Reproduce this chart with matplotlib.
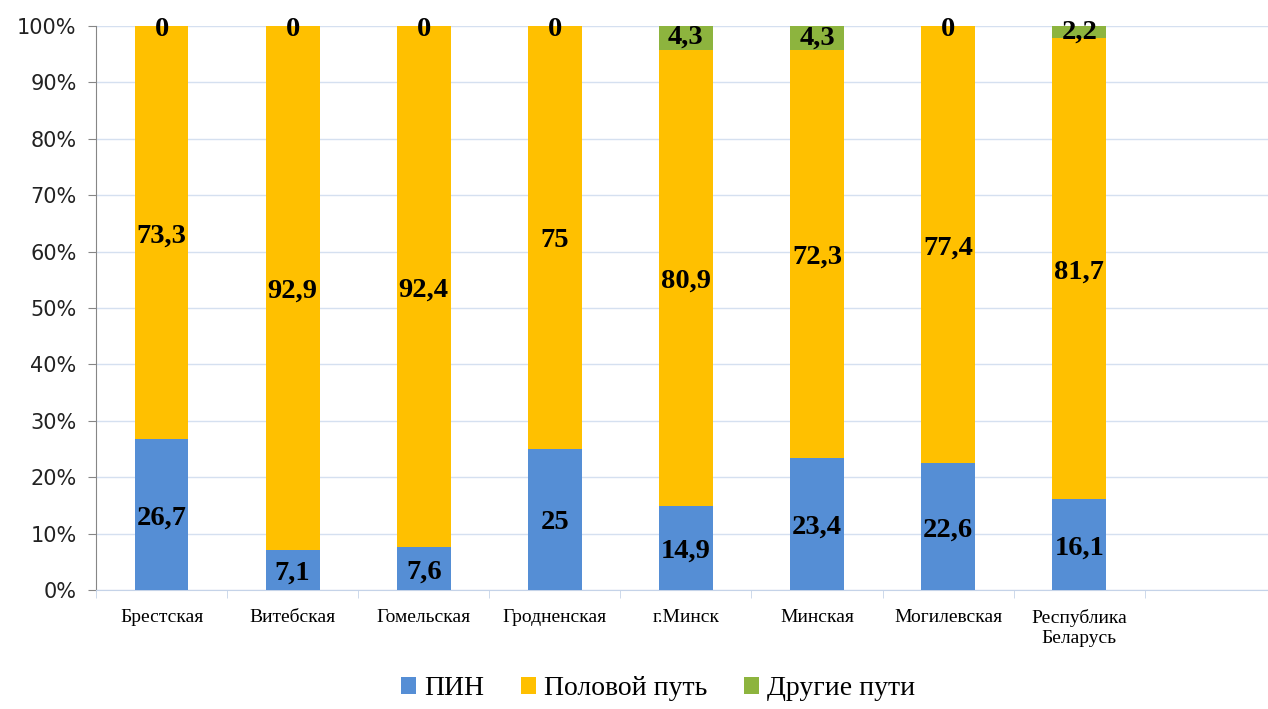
import numpy as np
import matplotlib
matplotlib.use('Agg')
import matplotlib.pyplot as plt
from matplotlib.ticker import FixedLocator, PercentFormatter

categories = ['Брестская', 'Витебская', 'Гомельская', 'Гродненская', 'г.Минск',
              'Минская', 'Могилевская', 'Республика\nБеларусь', '']
pin = [26.7, 7.1, 7.6, 25, 14.9, 23.4, 22.6, 16.1]
sexual = [73.3, 92.9, 92.4, 75, 80.9, 72.3, 77.4, 81.7]
other = [0, 0, 0, 0, 4.3, 4.3, 0, 2.2]
series_names = ['ПИН', 'Половой путь', 'Другие пути']

colors = ['#558ED5', '#FFC000', '#8DB43E']

fig = plt.figure(figsize=(12.68, 7.09), dpi=100)
ax = fig.add_axes([0.0757, 0.1678, 0.9243, 0.7955])

x = np.arange(len(pin))
w = 0.41
pin = np.array(pin)
sexual = np.array(sexual)
other = np.array(other)
b1 = ax.bar(x, pin, w, color=colors[0], label=series_names[0], zorder=3)
b2 = ax.bar(x, sexual, w, bottom=pin, color=colors[1], label=series_names[1], zorder=3)
b3 = ax.bar(x, other, w, bottom=pin + sexual, color=colors[2], label=series_names[2], zorder=3)

def fmt(v):
    s = ('%g' % v).replace('.', ',')
    return s

lab_kw = dict(ha='center', va='center', fontsize=20.5, fontweight='bold',
              family='Liberation Serif', color='black', zorder=5)
for i in range(len(pin)):
    ax.text(x[i], pin[i] / 2 - 0.6, fmt(pin[i]), **lab_kw)
    ax.text(x[i], pin[i] + sexual[i] / 2 - 0.6, fmt(sexual[i]), **lab_kw)
    top = min(pin[i] + sexual[i] + other[i] / 2, 99.4)
    ax.text(x[i], top, fmt(other[i]), **lab_kw)

ax.set_ylim(0, 100)
ax.set_xlim(-0.5, 8.44)
ax.yaxis.set_major_locator(FixedLocator(np.arange(0, 101, 10)))
ax.yaxis.set_major_formatter(PercentFormatter(decimals=0))
ax.tick_params(axis='y', labelsize=15, length=6, color='#868686', pad=8)
for lbl in ax.get_yticklabels():
    lbl.set_family('DejaVu Sans')
    lbl.set_color('#222222')

ax.set_xticks(np.arange(len(categories)))
ax.set_xticklabels(categories, family='Liberation Serif', fontsize=14,
                   linespacing=1.2)
ax.tick_params(axis='x', which='major', length=0, pad=14)
ax.xaxis.set_minor_locator(FixedLocator(np.arange(-0.5, 9, 1)))
ax.tick_params(axis='x', which='minor', length=6, color='#C5D3E8')

ax.grid(axis='y', color='#D5E0F0', linewidth=1, zorder=0)
for s in ['top', 'right']:
    ax.spines[s].set_visible(False)
ax.spines['left'].set_color('#868686')
ax.spines['bottom'].set_color('#C5D3E8')

leg = fig.legend(handles=[b1, b2, b3], labels=series_names, loc='lower center',
                 bbox_to_anchor=(0.519, -0.024), ncol=3, frameon=False,
                 prop={'family': 'Liberation Serif', 'size': 20},
                 handlelength=0.55, handleheight=0.55, handletextpad=0.3,
                 columnspacing=1.3)

fig.savefig('out.png', dpi=100)
